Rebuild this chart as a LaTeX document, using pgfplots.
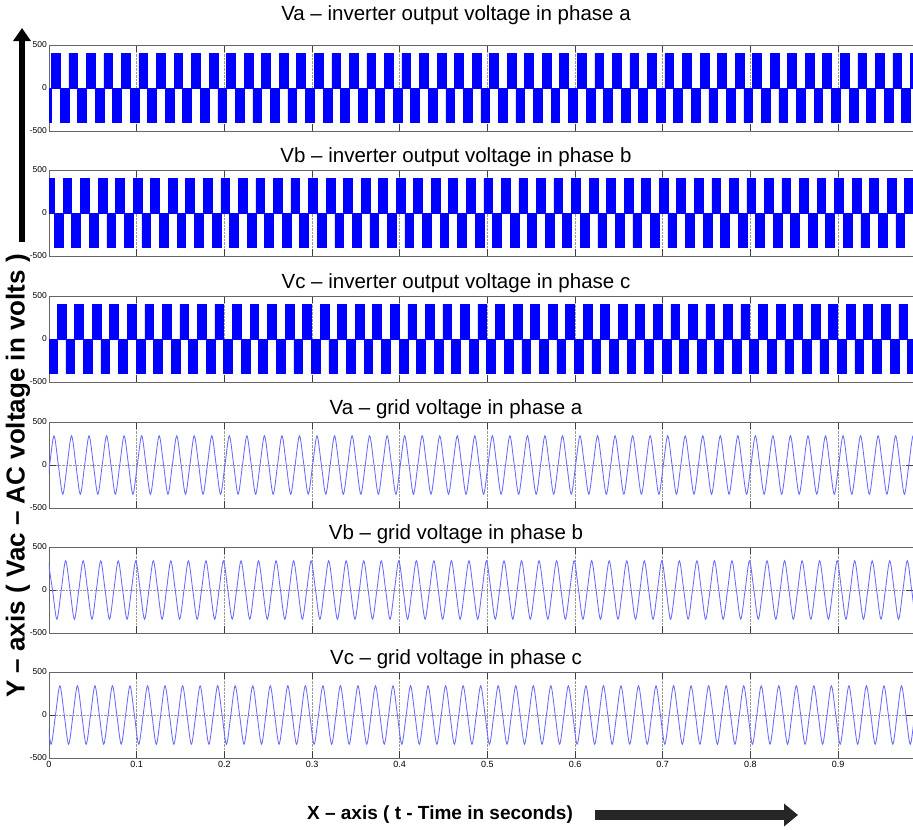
\documentclass[border=0pt]{standalone}
\usepackage{pgfplots}
\pgfplotsset{compat=1.18}
\usepackage{fontspec}
\setmainfont{Liberation Sans}
\usetikzlibrary{arrows.meta}
\definecolor{sinecol}{RGB}{105,105,255}
\pgfplotsset{
  panel/.style={
    scale only axis, width=864pt, height=86pt, anchor=north west,
    xmin=0, xmax=0.9855, ymin=-500, ymax=500,
    xtick={0,0.1,0.2,0.3,0.4,0.5,0.6,0.7,0.8,0.9},
    xticklabels={},
    ytick={-500,0,500}, yticklabels={-500,0,500},
    grid=major, grid style={densely dotted, black!40, line width=0.6pt},
    major tick length=7pt,
    tick style={black!75, line width=0.8pt},
    axis line style={black!60, line width=0.9pt},
    yticklabel style={font=\fontsize{8.5}{8.5}\selectfont, inner sep=1pt, xshift=-1pt},
    xticklabel style={font=\fontsize{9}{9}\selectfont},
  },
  sq/.style={draw=blue, fill=blue, const plot, line width=0.6pt},
  sn/.style={draw=sinecol, line width=0.85pt, smooth},
}
\begin{document}
\begin{tikzpicture}
\path[use as bounding box] (0,0) rectangle (913pt,-830pt);
\tikzset{ttl/.style={font=\fontsize{20.5}{20.5}\selectfont}}
\node[ttl] at (456pt,-15pt) {Va – inverter output voltage in phase a};
\node[ttl] at (456pt,-157pt) {Vb – inverter output voltage in phase b};
\node[ttl] at (456pt,-283pt) {Vc – inverter output voltage in phase c};
\node[ttl] at (456pt,-409pt) {Va – grid voltage in phase a};
\node[ttl] at (456pt,-534pt) {Vb – grid voltage in phase b};
\node[ttl] at (456pt,-659pt) {Vc – grid voltage in phase c};

% Panel 1: Va inverter
\begin{axis}[panel, at={(49pt,-45pt)}]
\addplot[sq] coordinates {(0,-400)
(0.0026,400)(0.0126,-400)(0.0226,400)(0.0326,-400)(0.0426,400)(0.0526,-400)(0.0626,400)(0.0726,-400)(0.0826,400)(0.0926,-400)
(0.1026,400)(0.1126,-400)(0.1226,400)(0.1326,-400)(0.1426,400)(0.1526,-400)(0.1626,400)(0.1726,-400)(0.1826,400)(0.1926,-400)
(0.2026,400)(0.2126,-400)(0.2226,400)(0.2326,-400)(0.2426,400)(0.2526,-400)(0.2626,400)(0.2726,-400)(0.2826,400)(0.2926,-400)
(0.3026,400)(0.3126,-400)(0.3226,400)(0.3326,-400)(0.3426,400)(0.3526,-400)(0.3626,400)(0.3726,-400)(0.3826,400)(0.3926,-400)
(0.4026,400)(0.4126,-400)(0.4226,400)(0.4326,-400)(0.4426,400)(0.4526,-400)(0.4626,400)(0.4726,-400)(0.4826,400)(0.4926,-400)
(0.5026,400)(0.5126,-400)(0.5226,400)(0.5326,-400)(0.5426,400)(0.5526,-400)(0.5626,400)(0.5726,-400)(0.5826,400)(0.5926,-400)
(0.6026,400)(0.6126,-400)(0.6226,400)(0.6326,-400)(0.6426,400)(0.6526,-400)(0.6626,400)(0.6726,-400)(0.6826,400)(0.6926,-400)
(0.7026,400)(0.7126,-400)(0.7226,400)(0.7326,-400)(0.7426,400)(0.7526,-400)(0.7626,400)(0.7726,-400)(0.7826,400)(0.7926,-400)
(0.8026,400)(0.8126,-400)(0.8226,400)(0.8326,-400)(0.8426,400)(0.8526,-400)(0.8626,400)(0.8726,-400)(0.8826,400)(0.8926,-400)
(0.9026,400)(0.9126,-400)(0.9226,400)(0.9326,-400)(0.9426,400)(0.9526,-400)(0.9626,400)(0.9726,-400)(0.9826,400)(0.9926,-400)
(1.0,-400)} \closedcycle;
\end{axis}

% Panel 2: Vb inverter
\begin{axis}[panel, at={(49pt,-170pt)}]
\addplot[sq] coordinates {(0,400)
(0.0060,-400)(0.0160,400)(0.0260,-400)(0.0360,400)(0.0460,-400)(0.0560,400)(0.0660,-400)(0.0760,400)(0.0860,-400)(0.0960,400)
(0.1060,-400)(0.1160,400)(0.1260,-400)(0.1360,400)(0.1460,-400)(0.1560,400)(0.1660,-400)(0.1760,400)(0.1860,-400)(0.1960,400)
(0.2060,-400)(0.2160,400)(0.2260,-400)(0.2360,400)(0.2460,-400)(0.2560,400)(0.2660,-400)(0.2760,400)(0.2860,-400)(0.2960,400)
(0.3060,-400)(0.3160,400)(0.3260,-400)(0.3360,400)(0.3460,-400)(0.3560,400)(0.3660,-400)(0.3760,400)(0.3860,-400)(0.3960,400)
(0.4060,-400)(0.4160,400)(0.4260,-400)(0.4360,400)(0.4460,-400)(0.4560,400)(0.4660,-400)(0.4760,400)(0.4860,-400)(0.4960,400)
(0.5060,-400)(0.5160,400)(0.5260,-400)(0.5360,400)(0.5460,-400)(0.5560,400)(0.5660,-400)(0.5760,400)(0.5860,-400)(0.5960,400)
(0.6060,-400)(0.6160,400)(0.6260,-400)(0.6360,400)(0.6460,-400)(0.6560,400)(0.6660,-400)(0.6760,400)(0.6860,-400)(0.6960,400)
(0.7060,-400)(0.7160,400)(0.7260,-400)(0.7360,400)(0.7460,-400)(0.7560,400)(0.7660,-400)(0.7760,400)(0.7860,-400)(0.7960,400)
(0.8060,-400)(0.8160,400)(0.8260,-400)(0.8360,400)(0.8460,-400)(0.8560,400)(0.8660,-400)(0.8760,400)(0.8860,-400)(0.8960,400)
(0.9060,-400)(0.9160,400)(0.9260,-400)(0.9360,400)(0.9460,-400)(0.9560,400)(0.9660,-400)(0.9760,400)(0.9860,-400)(0.9960,400)
(1.0,400)} \closedcycle;
\end{axis}

% Panel 3: Vc inverter
\begin{axis}[panel, at={(49pt,-296pt)}]
\addplot[sq] coordinates {(0,-400)
(0.0093,400)(0.0193,-400)(0.0293,400)(0.0393,-400)(0.0493,400)(0.0593,-400)(0.0693,400)(0.0793,-400)(0.0893,400)(0.0993,-400)
(0.1093,400)(0.1193,-400)(0.1293,400)(0.1393,-400)(0.1493,400)(0.1593,-400)(0.1693,400)(0.1793,-400)(0.1893,400)(0.1993,-400)
(0.2093,400)(0.2193,-400)(0.2293,400)(0.2393,-400)(0.2493,400)(0.2593,-400)(0.2693,400)(0.2793,-400)(0.2893,400)(0.2993,-400)
(0.3093,400)(0.3193,-400)(0.3293,400)(0.3393,-400)(0.3493,400)(0.3593,-400)(0.3693,400)(0.3793,-400)(0.3893,400)(0.3993,-400)
(0.4093,400)(0.4193,-400)(0.4293,400)(0.4393,-400)(0.4493,400)(0.4593,-400)(0.4693,400)(0.4793,-400)(0.4893,400)(0.4993,-400)
(0.5093,400)(0.5193,-400)(0.5293,400)(0.5393,-400)(0.5493,400)(0.5593,-400)(0.5693,400)(0.5793,-400)(0.5893,400)(0.5993,-400)
(0.6093,400)(0.6193,-400)(0.6293,400)(0.6393,-400)(0.6493,400)(0.6593,-400)(0.6693,400)(0.6793,-400)(0.6893,400)(0.6993,-400)
(0.7093,400)(0.7193,-400)(0.7293,400)(0.7393,-400)(0.7493,400)(0.7593,-400)(0.7693,400)(0.7793,-400)(0.7893,400)(0.7993,-400)
(0.8093,400)(0.8193,-400)(0.8293,400)(0.8393,-400)(0.8493,400)(0.8593,-400)(0.8693,400)(0.8793,-400)(0.8893,400)(0.8993,-400)
(0.9093,400)(0.9193,-400)(0.9293,400)(0.9393,-400)(0.9493,400)(0.9593,-400)(0.9693,400)(0.9793,-400)(0.9893,400)(0.9993,-400)
(1.0,-400)} \closedcycle;
\end{axis}

% Panel 4: Va grid
\begin{axis}[panel, at={(49pt,-422pt)}]
\addplot[sn] coordinates {(-0.0043,-340)
(0.0007,0)(0.0057,340)(0.0107,0)(0.0157,-340)(0.0207,0)(0.0257,340)(0.0307,0)(0.0357,-340)(0.0407,0)(0.0457,340)(0.0507,0)(0.0557,-340)(0.0607,0)(0.0657,340)(0.0707,0)(0.0757,-340)(0.0807,0)(0.0857,340)(0.0907,0)(0.0957,-340)
(0.1007,0)(0.1057,340)(0.1107,0)(0.1157,-340)(0.1207,0)(0.1257,340)(0.1307,0)(0.1357,-340)(0.1407,0)(0.1457,340)(0.1507,0)(0.1557,-340)(0.1607,0)(0.1657,340)(0.1707,0)(0.1757,-340)(0.1807,0)(0.1857,340)(0.1907,0)(0.1957,-340)
(0.2007,0)(0.2057,340)(0.2107,0)(0.2157,-340)(0.2207,0)(0.2257,340)(0.2307,0)(0.2357,-340)(0.2407,0)(0.2457,340)(0.2507,0)(0.2557,-340)(0.2607,0)(0.2657,340)(0.2707,0)(0.2757,-340)(0.2807,0)(0.2857,340)(0.2907,0)(0.2957,-340)
(0.3007,0)(0.3057,340)(0.3107,0)(0.3157,-340)(0.3207,0)(0.3257,340)(0.3307,0)(0.3357,-340)(0.3407,0)(0.3457,340)(0.3507,0)(0.3557,-340)(0.3607,0)(0.3657,340)(0.3707,0)(0.3757,-340)(0.3807,0)(0.3857,340)(0.3907,0)(0.3957,-340)
(0.4007,0)(0.4057,340)(0.4107,0)(0.4157,-340)(0.4207,0)(0.4257,340)(0.4307,0)(0.4357,-340)(0.4407,0)(0.4457,340)(0.4507,0)(0.4557,-340)(0.4607,0)(0.4657,340)(0.4707,0)(0.4757,-340)(0.4807,0)(0.4857,340)(0.4907,0)(0.4957,-340)
(0.5007,0)(0.5057,340)(0.5107,0)(0.5157,-340)(0.5207,0)(0.5257,340)(0.5307,0)(0.5357,-340)(0.5407,0)(0.5457,340)(0.5507,0)(0.5557,-340)(0.5607,0)(0.5657,340)(0.5707,0)(0.5757,-340)(0.5807,0)(0.5857,340)(0.5907,0)(0.5957,-340)
(0.6007,0)(0.6057,340)(0.6107,0)(0.6157,-340)(0.6207,0)(0.6257,340)(0.6307,0)(0.6357,-340)(0.6407,0)(0.6457,340)(0.6507,0)(0.6557,-340)(0.6607,0)(0.6657,340)(0.6707,0)(0.6757,-340)(0.6807,0)(0.6857,340)(0.6907,0)(0.6957,-340)
(0.7007,0)(0.7057,340)(0.7107,0)(0.7157,-340)(0.7207,0)(0.7257,340)(0.7307,0)(0.7357,-340)(0.7407,0)(0.7457,340)(0.7507,0)(0.7557,-340)(0.7607,0)(0.7657,340)(0.7707,0)(0.7757,-340)(0.7807,0)(0.7857,340)(0.7907,0)(0.7957,-340)
(0.8007,0)(0.8057,340)(0.8107,0)(0.8157,-340)(0.8207,0)(0.8257,340)(0.8307,0)(0.8357,-340)(0.8407,0)(0.8457,340)(0.8507,0)(0.8557,-340)(0.8607,0)(0.8657,340)(0.8707,0)(0.8757,-340)(0.8807,0)(0.8857,340)(0.8907,0)(0.8957,-340)
(0.9007,0)(0.9057,340)(0.9107,0)(0.9157,-340)(0.9207,0)(0.9257,340)(0.9307,0)(0.9357,-340)(0.9407,0)(0.9457,340)(0.9507,0)(0.9557,-340)(0.9607,0)(0.9657,340)(0.9707,0)(0.9757,-340)(0.9807,0)(0.9857,340)(0.9907,0)(0.9957,-340)
(1.0007,0)};
\end{axis}

% Panel 5: Vb grid
\begin{axis}[panel, at={(49pt,-547pt)}]
\addplot[sn] coordinates {(-0.001,340)
(0.0040,0)(0.0090,-340)(0.0140,0)(0.0190,340)(0.0240,0)(0.0290,-340)(0.0340,0)(0.0390,340)(0.0440,0)(0.0490,-340)(0.0540,0)(0.0590,340)(0.0640,0)(0.0690,-340)(0.0740,0)(0.0790,340)(0.0840,0)(0.0890,-340)(0.0940,0)(0.0990,340)
(0.1040,0)(0.1090,-340)(0.1140,0)(0.1190,340)(0.1240,0)(0.1290,-340)(0.1340,0)(0.1390,340)(0.1440,0)(0.1490,-340)(0.1540,0)(0.1590,340)(0.1640,0)(0.1690,-340)(0.1740,0)(0.1790,340)(0.1840,0)(0.1890,-340)(0.1940,0)(0.1990,340)
(0.2040,0)(0.2090,-340)(0.2140,0)(0.2190,340)(0.2240,0)(0.2290,-340)(0.2340,0)(0.2390,340)(0.2440,0)(0.2490,-340)(0.2540,0)(0.2590,340)(0.2640,0)(0.2690,-340)(0.2740,0)(0.2790,340)(0.2840,0)(0.2890,-340)(0.2940,0)(0.2990,340)
(0.3040,0)(0.3090,-340)(0.3140,0)(0.3190,340)(0.3240,0)(0.3290,-340)(0.3340,0)(0.3390,340)(0.3440,0)(0.3490,-340)(0.3540,0)(0.3590,340)(0.3640,0)(0.3690,-340)(0.3740,0)(0.3790,340)(0.3840,0)(0.3890,-340)(0.3940,0)(0.3990,340)
(0.4040,0)(0.4090,-340)(0.4140,0)(0.4190,340)(0.4240,0)(0.4290,-340)(0.4340,0)(0.4390,340)(0.4440,0)(0.4490,-340)(0.4540,0)(0.4590,340)(0.4640,0)(0.4690,-340)(0.4740,0)(0.4790,340)(0.4840,0)(0.4890,-340)(0.4940,0)(0.4990,340)
(0.5040,0)(0.5090,-340)(0.5140,0)(0.5190,340)(0.5240,0)(0.5290,-340)(0.5340,0)(0.5390,340)(0.5440,0)(0.5490,-340)(0.5540,0)(0.5590,340)(0.5640,0)(0.5690,-340)(0.5740,0)(0.5790,340)(0.5840,0)(0.5890,-340)(0.5940,0)(0.5990,340)
(0.6040,0)(0.6090,-340)(0.6140,0)(0.6190,340)(0.6240,0)(0.6290,-340)(0.6340,0)(0.6390,340)(0.6440,0)(0.6490,-340)(0.6540,0)(0.6590,340)(0.6640,0)(0.6690,-340)(0.6740,0)(0.6790,340)(0.6840,0)(0.6890,-340)(0.6940,0)(0.6990,340)
(0.7040,0)(0.7090,-340)(0.7140,0)(0.7190,340)(0.7240,0)(0.7290,-340)(0.7340,0)(0.7390,340)(0.7440,0)(0.7490,-340)(0.7540,0)(0.7590,340)(0.7640,0)(0.7690,-340)(0.7740,0)(0.7790,340)(0.7840,0)(0.7890,-340)(0.7940,0)(0.7990,340)
(0.8040,0)(0.8090,-340)(0.8140,0)(0.8190,340)(0.8240,0)(0.8290,-340)(0.8340,0)(0.8390,340)(0.8440,0)(0.8490,-340)(0.8540,0)(0.8590,340)(0.8640,0)(0.8690,-340)(0.8740,0)(0.8790,340)(0.8840,0)(0.8890,-340)(0.8940,0)(0.8990,340)
(0.9040,0)(0.9090,-340)(0.9140,0)(0.9190,340)(0.9240,0)(0.9290,-340)(0.9340,0)(0.9390,340)(0.9440,0)(0.9490,-340)(0.9540,0)(0.9590,340)(0.9640,0)(0.9690,-340)(0.9740,0)(0.9790,340)(0.9840,0)(0.9890,-340)(0.9940,0)(0.9990,340)
(1.004,0)};
\end{axis}

% Panel 6: Vc grid
\begin{axis}[panel, at={(49pt,-672pt)},
  xticklabels={0,0.1,0.2,0.3,0.4,0.5,0.6,0.7,0.8,0.9}]
\addplot[sn] coordinates {(-0.0026,0)
(0.0024,-340)(0.0074,0)(0.0124,340)(0.0174,0)(0.0224,-340)(0.0274,0)(0.0324,340)(0.0374,0)(0.0424,-340)(0.0474,0)(0.0524,340)(0.0574,0)(0.0624,-340)(0.0674,0)(0.0724,340)(0.0774,0)(0.0824,-340)(0.0874,0)(0.0924,340)(0.0974,0)
(0.1024,-340)(0.1074,0)(0.1124,340)(0.1174,0)(0.1224,-340)(0.1274,0)(0.1324,340)(0.1374,0)(0.1424,-340)(0.1474,0)(0.1524,340)(0.1574,0)(0.1624,-340)(0.1674,0)(0.1724,340)(0.1774,0)(0.1824,-340)(0.1874,0)(0.1924,340)(0.1974,0)
(0.2024,-340)(0.2074,0)(0.2124,340)(0.2174,0)(0.2224,-340)(0.2274,0)(0.2324,340)(0.2374,0)(0.2424,-340)(0.2474,0)(0.2524,340)(0.2574,0)(0.2624,-340)(0.2674,0)(0.2724,340)(0.2774,0)(0.2824,-340)(0.2874,0)(0.2924,340)(0.2974,0)
(0.3024,-340)(0.3074,0)(0.3124,340)(0.3174,0)(0.3224,-340)(0.3274,0)(0.3324,340)(0.3374,0)(0.3424,-340)(0.3474,0)(0.3524,340)(0.3574,0)(0.3624,-340)(0.3674,0)(0.3724,340)(0.3774,0)(0.3824,-340)(0.3874,0)(0.3924,340)(0.3974,0)
(0.4024,-340)(0.4074,0)(0.4124,340)(0.4174,0)(0.4224,-340)(0.4274,0)(0.4324,340)(0.4374,0)(0.4424,-340)(0.4474,0)(0.4524,340)(0.4574,0)(0.4624,-340)(0.4674,0)(0.4724,340)(0.4774,0)(0.4824,-340)(0.4874,0)(0.4924,340)(0.4974,0)
(0.5024,-340)(0.5074,0)(0.5124,340)(0.5174,0)(0.5224,-340)(0.5274,0)(0.5324,340)(0.5374,0)(0.5424,-340)(0.5474,0)(0.5524,340)(0.5574,0)(0.5624,-340)(0.5674,0)(0.5724,340)(0.5774,0)(0.5824,-340)(0.5874,0)(0.5924,340)(0.5974,0)
(0.6024,-340)(0.6074,0)(0.6124,340)(0.6174,0)(0.6224,-340)(0.6274,0)(0.6324,340)(0.6374,0)(0.6424,-340)(0.6474,0)(0.6524,340)(0.6574,0)(0.6624,-340)(0.6674,0)(0.6724,340)(0.6774,0)(0.6824,-340)(0.6874,0)(0.6924,340)(0.6974,0)
(0.7024,-340)(0.7074,0)(0.7124,340)(0.7174,0)(0.7224,-340)(0.7274,0)(0.7324,340)(0.7374,0)(0.7424,-340)(0.7474,0)(0.7524,340)(0.7574,0)(0.7624,-340)(0.7674,0)(0.7724,340)(0.7774,0)(0.7824,-340)(0.7874,0)(0.7924,340)(0.7974,0)
(0.8024,-340)(0.8074,0)(0.8124,340)(0.8174,0)(0.8224,-340)(0.8274,0)(0.8324,340)(0.8374,0)(0.8424,-340)(0.8474,0)(0.8524,340)(0.8574,0)(0.8624,-340)(0.8674,0)(0.8724,340)(0.8774,0)(0.8824,-340)(0.8874,0)(0.8924,340)(0.8974,0)
(0.9024,-340)(0.9074,0)(0.9124,340)(0.9174,0)(0.9224,-340)(0.9274,0)(0.9324,340)(0.9374,0)(0.9424,-340)(0.9474,0)(0.9524,340)(0.9574,0)(0.9624,-340)(0.9674,0)(0.9724,340)(0.9774,0)(0.9824,-340)(0.9874,0)(0.9924,340)(0.9974,0)
(1.0024,-340)};
\end{axis}

% axis labels and arrows
\node[rotate=90, font=\bfseries\fontsize{26}{26}\selectfont] at (18pt,-476pt) {Y – axis ( Vac – AC voltage in volts )};
\draw[line width=6pt, -{Triangle[length=13pt,width=17pt]}] (22pt,-242pt) -- (22pt,-28pt);
\node[font=\bfseries\fontsize{19}{19}\selectfont] at (440pt,-815pt) {X – axis ( t - Time in seconds)};
\draw[line width=10pt, black!85, -{Triangle[length=14pt,width=22pt]}] (595pt,-815pt) -- (798pt,-815pt);
\end{tikzpicture}
\end{document}
